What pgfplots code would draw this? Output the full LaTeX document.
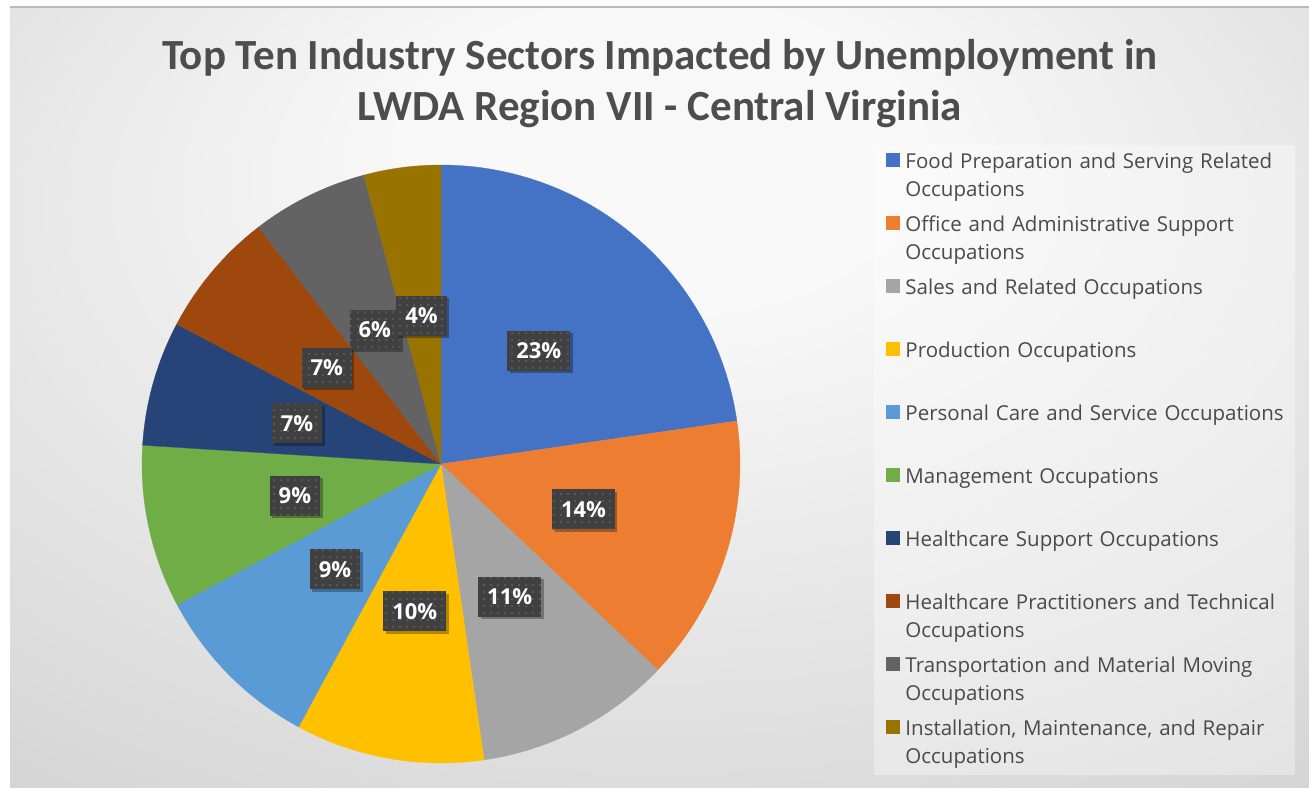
\documentclass[border=0pt]{standalone}
\usepackage{pgfplots}
\pgfplotsset{compat=1.18}
\usepackage{fontspec}
\setmainfont{Open Sans}
\newfontfamily\carlito{Carlito}
\usetikzlibrary{shadows,patterns}
\definecolor{c1}{HTML}{4472C4}
\definecolor{c2}{HTML}{ED7D31}
\definecolor{c3}{HTML}{A5A5A5}
\definecolor{c4}{HTML}{FFC000}
\definecolor{c5}{HTML}{5B9BD5}
\definecolor{c6}{HTML}{70AD47}
\definecolor{c7}{HTML}{264478}
\definecolor{c8}{HTML}{9E480E}
\definecolor{c9}{HTML}{636363}
\definecolor{c10}{HTML}{997300}
\definecolor{bgc}{HTML}{F8F8F8}
\definecolor{bge}{HTML}{CBCBCB}
\definecolor{bgx}{HTML}{C0C0C0}
\definecolor{titlec}{HTML}{4D4D4D}
\definecolor{legtext}{HTML}{4A4A4A}
\definecolor{lblc}{HTML}{404040}
\definecolor{dotc}{HTML}{575757}
\pgfdeclarepatternformonly{mydots}{\pgfqpoint{-1bp}{-1bp}}{\pgfqpoint{8bp}{8bp}}{\pgfqpoint{7bp}{7bp}}{\pgfpathrectangle{\pgfqpoint{0bp}{0bp}}{\pgfqpoint{2bp}{2bp}}\pgfusepath{fill}}
\pgfdeclareradialshading{bgshade}{\pgfpoint{0bp}{18bp}}{color(0bp)=(bgc); color(10bp)=(bgc); color(50bp)=(bge); color(72bp)=(bgx)}
\newcommand\legfont{\fontsize{20.5bp}{28bp}\selectfont}
\newcommand\lblfont{\bfseries\fontsize{22bp}{26bp}\selectfont}
\newcommand\titlefont{\carlito\bfseries\fontsize{43bp}{50bp}\selectfont}
\tikzset{lbl/.style={fill=lblc, text=white, font=\lblfont, inner xsep=9bp, inner ysep=12bp, text height=16bp, text depth=0pt,
  drop shadow={shadow xshift=2.5bp, shadow yshift=-2.5bp, opacity=0.3, fill=black},
  postaction={pattern=mydots, pattern color=dotc}}}
% #1 start (percent), #2 value (percent), #3 colour, #4 label, #5 legend
\newcommand{\slice}[5]{%
  \addplot[fill=#3, draw=#3, line width=0.3bp, domain={90-3.6*(#1+#2)}:{90-3.6*(#1)}, samples=72] ({cos(x)},{sin(x)}) -- (axis cs:0,0) -- cycle;
  \addlegendentry{#5}
  \node[lbl] at (axis cs:{0.5*cos(90-3.6*(#1+#2/2))},{0.5*sin(90-3.6*(#1+#2/2))}) {#4\%};
}
\begin{document}
\begin{tikzpicture}
\path[use as bounding box] (0,0) rectangle (1309bp,789bp);
\fill[white] (0,0) rectangle (1309bp,789bp);
\shade[shading=bgshade] (10bp,1bp) rectangle (1309bp,782bp);
\draw[black!27, line width=1.5bp] (10bp,782bp) -- (1309bp,782bp);
\fill[white, opacity=0.35] (874bp,14bp) rectangle (1295bp,644bp);
\node[anchor=base, text=titlec, font=\titlefont, inner sep=0pt] at (660bp,719bp) {Top Ten Industry Sectors Impacted by Unemployment in};
\node[anchor=base, text=titlec, font=\titlefont, inner sep=0pt] at (660bp,668bp) {LWDA Region VII - Central Virginia};
\begin{axis}[at={(441bp,325bp)}, anchor=center, scale only axis, width=598bp, height=598bp,
  xmin=-1, xmax=1, ymin=-1, ymax=1, hide axis, clip=false,
  legend image code/.code={\fill[#1] (0bp,-5bp) rectangle (13bp,8bp);},
  legend cell align=left,
  legend style={at={(axis description cs:1.2441,1.0211)}, anchor=north west, draw=none, fill=none,
    inner sep=0pt, row sep=46bp, column sep=6bp, font=\legfont,
    nodes={text width=395bp, align=left, inner sep=0pt, text=legtext}}]
\slice{0}{22.7}{c1}{23}{Food Preparation and Serving Related\\Occupations}
\slice{22.7}{14.4}{c2}{14}{Office and Administrative Support\\Occupations}
\slice{37.1}{10.6}{c3}{11}{Sales and Related Occupations}
\slice{47.7}{10.2}{c4}{10}{Production Occupations}
\slice{57.9}{9.3}{c5}{9}{Personal Care and Service Occupations}
\slice{67.2}{8.8}{c6}{9}{Management Occupations}
\slice{76.0}{6.75}{c7}{7}{Healthcare Support Occupations}
\slice{82.75}{6.8}{c8}{7}{Healthcare Practitioners and Technical\\Occupations}
\slice{89.55}{6.3}{c9}{6}{Transportation and Material Moving\\Occupations}
\slice{95.85}{4.15}{c10}{4}{Installation, Maintenance, and Repair\\Occupations}
\end{axis}
\end{tikzpicture}
\end{document}
